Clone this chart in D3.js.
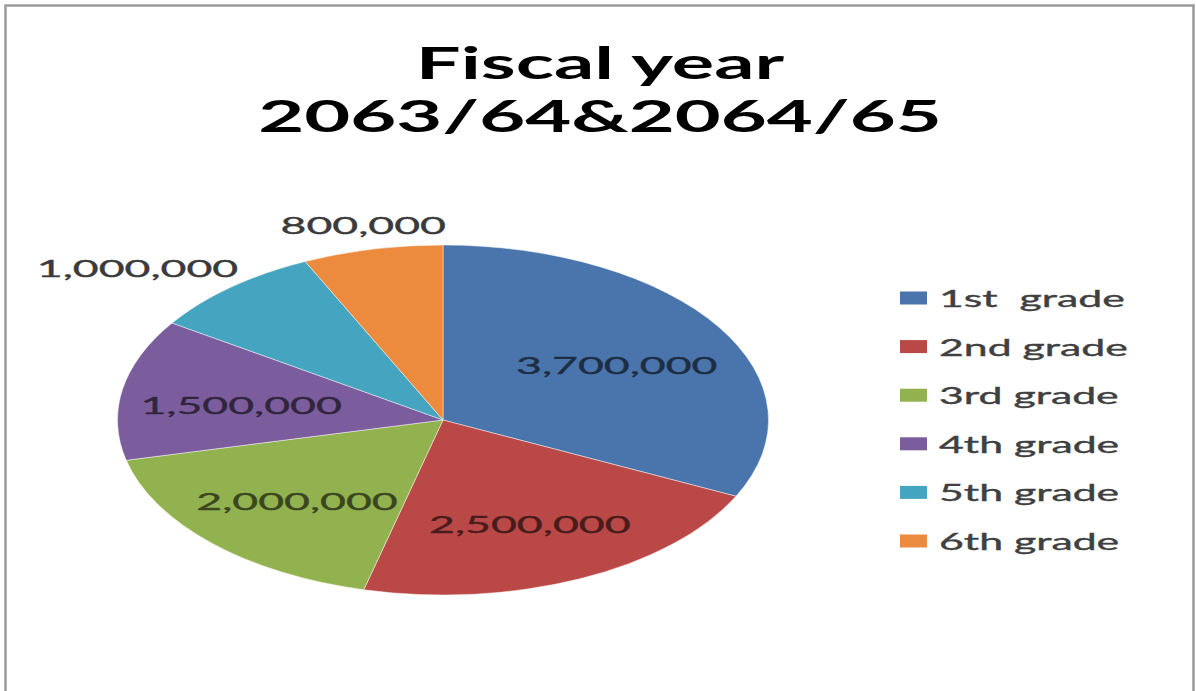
<!DOCTYPE html>
<html>
<head>
<meta charset="utf-8">
<script src="https://cdn.jsdelivr.net/npm/d3@7"></script>
<style>
  html, body { margin: 0; padding: 0; background: #fff; overflow: hidden; }
  text { font-family: Lato, "Open Sans", sans-serif; }
</style>
</head>
<body>
<svg id="chart" width="1196" height="691"></svg>
<script>
// Chart data
const titleLines = ["Fiscal year", "2063/64&2064/65"];
const categories = ["1st  grade", "2nd grade", "3rd grade", "4th grade", "5th grade", "6th grade"];
const values = [3700000, 2500000, 2000000, 1500000, 1000000, 800000];
const colors = ["#4A75AC", "#B94846", "#92B24F", "#7B5D9D", "#45A4BF", "#EC8B3E"];

const W = 1196, H = 691;
const svg = d3.select("#chart");

// The whole chart is drawn wide: shapes and type are stretched horizontally.
const stretch = 1.86;
const cx = 443, cy = 420, r = 175;

// Frame
svg.append("rect")
  .attr("x", 5.5).attr("y", 5.5)
  .attr("width", W - 8).attr("height", H + 10)
  .attr("fill", "#fff")
  .attr("stroke", "#9a9a9a").attr("stroke-width", 2.5);

// Title
const title = svg.append("g");
titleLines.forEach((t, i) => {
  title.append("text")
    .attr("transform", `translate(${600},${79 + i * 53}) scale(${stretch * 0.97},1)`)
    .attr("text-anchor", "middle")
    .attr("font-size", 44)
    .attr("font-weight", 700)
    .attr("fill", "#000")
    .text(t);
});

// Pie
const pie = d3.pie().value(d => d).sort(null);
const arcs = pie(values);
const arc = d3.arc().innerRadius(0).outerRadius(r);

const pieG = svg.append("g")
  .attr("transform", `translate(${cx},${cy}) scale(${stretch},1)`);

pieG.selectAll("path")
  .data(arcs)
  .join("path")
  .attr("d", arc)
  .attr("fill", (d, i) => colors[i])
  .attr("stroke", "rgba(255,255,255,0.45)")
  .attr("stroke-width", 1)
  .attr("vector-effect", "non-scaling-stroke");

// Data labels: wide slices hold their label inside, narrow ones outside
const fmt = d3.format(",");
const inArc = d3.arc().innerRadius(r * 0.63).outerRadius(r * 0.63);
const outArc = d3.arc().innerRadius(r * 1.13).outerRadius(r * 1.13);
const labelG = svg.append("g");

arcs.forEach((d, i) => {
  const span = d.endAngle - d.startAngle;
  const outside = span < 0.6;
  const [lx, ly] = (outside ? outArc : inArc).centroid(d);
  const fill = outside ? "#3a3a3a" : d3.color(colors[i]).darker(2.6);
  const t = labelG.append("text")
    .attr("text-anchor", "middle")
    .attr("dominant-baseline", "central")
    .attr("font-size", 24)
    .attr("fill", fill)
    .attr("stroke", fill)
    .attr("stroke-width", 0.35)
    .text(fmt(values[i]));
  let x = cx + lx * stretch, y = cy + ly + (outside ? -2 : 4);
  if (outside) {
    const mid = (d.startAngle + d.endAngle) / 2;
    const s = Math.sin(mid);
    const w = t.node().getComputedTextLength() * stretch;
    if (Math.abs(s) > 0.4) x += s * w / 2;
  }
  t.attr("transform", `translate(${x},${y}) scale(${stretch},1)`);
});

// Legend
const legendY = d3.scalePoint().domain(categories).range([298, 541]);
const legend = svg.append("g");
categories.forEach((c, i) => {
  const y = legendY(c);
  legend.append("rect")
    .attr("x", 900).attr("y", y - 6.5)
    .attr("width", 27).attr("height", 13)
    .attr("fill", colors[i]);
  legend.append("text")
    .attr("transform", `translate(939,${y}) scale(${stretch},1)`)
    .attr("dominant-baseline", "central")
    .attr("font-size", 23)
    .attr("fill", "#404040")
    .attr("stroke", "#404040")
    .attr("stroke-width", 0.35)
    .style("white-space", "pre")
    .text(c);
});
</script>
</body>
</html>
